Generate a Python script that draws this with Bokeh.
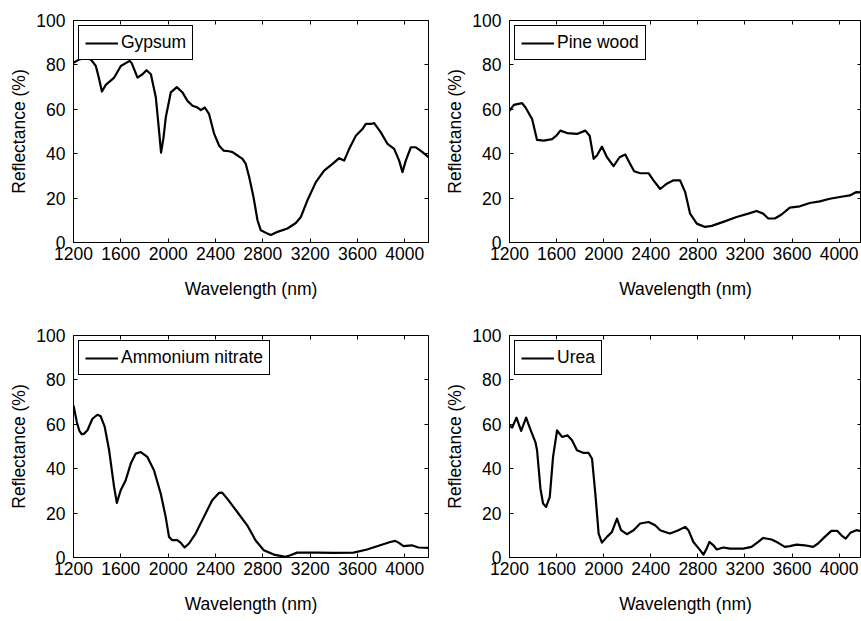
from bokeh.plotting import figure
from bokeh.layouts import row, column
from bokeh.models import LinearAxis, FixedTicker, CustomJSTickFormatter, Range1d
from bokeh.embed import file_html
from bokeh.resources import INLINE

x_ticks = [1200, 1600, 2000, 2400, 2800, 3200, 3600, 4000]
y_ticks = [0, 20, 40, 60, 80, 100]

gypsum_wl = [1200, 1250, 1290, 1346, 1389, 1415, 1440, 1473, 1544, 1600, 1675, 1690, 1741, 1783, 1817, 1854,
             1896, 1920, 1940, 1960, 1980, 2022, 2073, 2121, 2163, 2206, 2248, 2276, 2310, 2346, 2389, 2431,
             2468, 2515, 2544, 2586, 2628, 2656, 2685, 2721, 2755, 2783, 2839, 2868, 2924, 3008, 3079, 3121,
             3177, 3248, 3318, 3389, 3445, 3487, 3530, 3586, 3642, 3670, 3713, 3741, 3797, 3854, 3910, 3952,
             3980, 4008, 4051, 4093, 4149, 4200]
gypsum_r = [81, 82.5, 83, 82.5, 79.5, 74, 68, 71, 74.3, 79.5, 81.8, 81, 74.3, 75.8, 77.6, 75.8,
            65.3, 52, 40.5, 47, 56.4, 67.6, 70, 67.6, 63.8, 61.6, 60.8, 59.6, 60.8, 57.8, 48.9, 43.6,
            41.4, 41.1, 40.7, 39.2, 37.7, 35.4, 29.4, 20.5, 10, 5.5, 4, 3.4, 4.8, 6.3, 8.8, 11.5,
            19, 27.2, 32.4, 35.4, 38, 36.9, 42.2, 48.1, 51.1, 53.4, 53.4, 53.8, 49.6, 44.4, 42.2, 36.9,
            31.7, 36.9, 42.9, 42.9, 40.7, 38.4]

pine_wl = [1200, 1237, 1307, 1336, 1392, 1434, 1491, 1562, 1598, 1632, 1689, 1773, 1844, 1881, 1915, 1943,
           1985, 2028, 2084, 2135, 2183, 2225, 2259, 2310, 2381, 2423, 2480, 2536, 2593, 2649, 2692, 2734,
           2791, 2861, 2918, 3016, 3129, 3228, 3299, 3355, 3398, 3454, 3511, 3581, 3666, 3751, 3836, 3921,
           4006, 4091, 4147, 4200]
pine_r = [59.3, 62, 62.8, 60.8, 55.6, 46.2, 45.9, 46.6, 48.1, 50.4, 49.3, 48.9, 50.4, 48.1, 37.7, 39.2,
          43.2, 38.4, 34.4, 38.4, 39.6, 35.4, 32.1, 31.2, 31.2, 28, 24.1, 26.5, 28, 28, 22.7, 13,
          8.5, 7, 7.5, 9.3, 11.5, 13, 14.2, 13, 10.8, 10.8, 12.6, 15.7, 16.3, 17.8, 18.5, 19.7,
          20.5, 21.2, 22.7, 22.5]

ammonium_wl = [1200, 1228, 1250, 1270, 1290, 1318, 1360, 1402, 1430, 1464, 1501, 1543, 1566, 1599, 1641, 1684,
               1726, 1768, 1824, 1880, 1937, 1979, 2007, 2035, 2077, 2105, 2139, 2176, 2232, 2302, 2372, 2429,
               2457, 2499, 2584, 2668, 2738, 2808, 2893, 2991, 3033, 3089, 3258, 3399, 3567, 3680, 3792, 3877,
               3919, 3947, 3989, 4059, 4115, 4200]
ammonium_r = [68.5, 61, 57, 55.5, 55.8, 57.3, 62.5, 64.3, 63.6, 58.8, 48.3, 31.8, 24.6, 30.3, 34.8, 42.3,
              46.8, 47.5, 45.3, 39.3, 28.8, 18.3, 9.3, 7.8, 7.8, 6.7, 4.5, 6.3, 10.8, 18.3, 25.8, 29.1,
              29.2, 26.5, 20.5, 14.5, 7.8, 3.3, 1.3, 0.3, 1, 2.2, 2.2, 2.1, 2.2, 3.6, 5.5, 7,
              7.5, 6.7, 5.1, 5.5, 4.5, 4.3]

urea_wl = [1200, 1223, 1259, 1299, 1341, 1378, 1420, 1434, 1463, 1485, 1511, 1542, 1570, 1604, 1646, 1694,
           1731, 1773, 1830, 1872, 1901, 1929, 1957, 1985, 2028, 2070, 2113, 2147, 2197, 2254, 2310, 2381,
           2437, 2480, 2522, 2564, 2635, 2692, 2720, 2762, 2819, 2847, 2875, 2898, 2932, 2960, 3016, 3073,
           3186, 3256, 3313, 3355, 3426, 3482, 3539, 3581, 3638, 3708, 3779, 3821, 3878, 3934, 3983, 4019,
           4056, 4095, 4146, 4200]
urea_r = [59.5, 58.5, 63, 57, 63, 57.6, 52, 48.3, 31, 24.3, 22.8, 27.3, 45.3, 57.3, 54.3, 55,
          52.8, 48.3, 47.1, 47.1, 44.5, 28.8, 10.8, 6.7, 9.3, 11.5, 17.5, 12.3, 10.5, 12.3, 15.3, 16,
          14.5, 12.3, 11.5, 10.8, 12.3, 13.8, 12.3, 7, 3.3, 1.3, 4, 7, 5.5, 3.6, 4.5, 4,
          4, 4.8, 7, 8.8, 8.1, 6.6, 4.8, 5.1, 5.8, 5.5, 4.8, 6.3, 9.3, 12, 12, 10,
          8.5, 11.1, 12.3, 11.8]

FONT = "Liberation Sans"
FS = "17.5px"


def mirror_axis(ticks):
    return LinearAxis(ticker=FixedTicker(ticks=ticks),
                      formatter=CustomJSTickFormatter(code="return ''"),
                      major_tick_in=4, major_tick_out=0, minor_tick_line_color=None,
                      major_label_text_font_size="1px", major_label_standoff=0,
                      axis_line_color=None, major_tick_line_color="black")


def panel(wl, refl, name, width, height, left, right, top, bottom, xend):
    p = figure(width=width, height=height, x_range=Range1d(1200, xend), y_range=Range1d(0, 100),
               output_backend="svg", toolbar_location=None,
               min_border_left=left, min_border_right=right,
               min_border_top=top, min_border_bottom=bottom,
               background_fill_color="white", border_fill_color="white")
    p.line(wl, refl, line_color="black", line_width=2.2, legend_label=name, line_join="round")
    p.grid.visible = False
    p.outline_line_color = "black"
    p.outline_line_width = 1
    p.outline_line_alpha = 1

    p.xaxis.ticker = FixedTicker(ticks=x_ticks)
    p.yaxis.ticker = FixedTicker(ticks=y_ticks)
    p.xaxis.axis_label = "Wavelength (nm)"
    p.yaxis.axis_label = "Reflectance (%)"
    for ax in (p.xaxis, p.yaxis):
        ax.major_tick_in = 4
        ax.major_tick_out = 0
        ax.minor_tick_line_color = None
        ax.axis_line_color = "black"
        ax.major_tick_line_color = "black"
        ax.major_label_text_font = FONT
        ax.major_label_text_font_size = FS
        ax.major_label_text_color = "black"
        ax.axis_label_text_font = FONT
        ax.axis_label_text_font_size = FS
        ax.axis_label_text_font_style = "normal"
        ax.axis_label_text_color = "black"
    p.xaxis.major_label_standoff = 4
    p.xaxis.axis_label_standoff = 16
    p.yaxis.major_label_standoff = 8
    p.yaxis.axis_label_standoff = 4

    p.add_layout(mirror_axis(x_ticks), "above")
    p.add_layout(mirror_axis(y_ticks), "right")

    lg = p.legend[0]
    lg.location = "top_left"
    lg.margin = 5
    lg.padding = 6
    lg.spacing = 0
    lg.glyph_width = 33
    lg.glyph_height = 20
    lg.label_height = 20
    lg.label_standoff = 3
    lg.label_text_font = FONT
    lg.label_text_font_size = FS
    lg.label_text_color = "black"
    lg.border_line_color = "black"
    lg.border_line_width = 1
    lg.border_line_alpha = 1
    lg.background_fill_color = "white"
    lg.background_fill_alpha = 1
    return p


p1 = panel(gypsum_wl, gypsum_r, "Gypsum", 436, 310, 73, 8, 20, 68, 4200)
p2 = panel(pine_wl, pine_r, "Pine wood", 425, 310, 73, 0, 20, 68, 4190)
p3 = panel(ammonium_wl, ammonium_r, "Ammonium nitrate", 436, 311, 73, 8, 25, 64, 4200)
p4 = panel(urea_wl, urea_r, "Urea", 425, 311, 73, 0, 25, 64, 4190)

layout = column(row(p1, p2), row(p3, p4))

with open("out.html", "w") as f:
    f.write(file_html(layout, INLINE))
